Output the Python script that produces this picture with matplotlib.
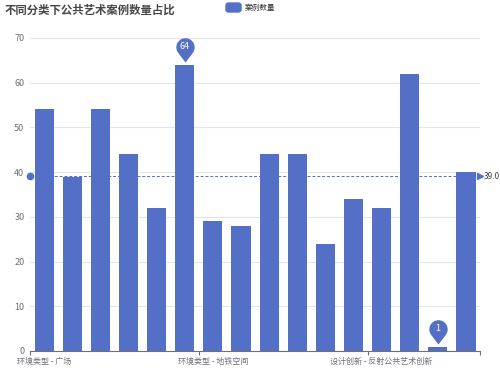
import math
import matplotlib
matplotlib.use("Agg")
import matplotlib.pyplot as plt
from matplotlib.path import Path
from matplotlib.markers import MarkerStyle
from matplotlib.patches import FancyBboxPatch
import matplotlib.transforms as mtransforms

plt.rcParams['font.family'] = ['Noto Sans CJK SC', 'DejaVu Sans']

# data
categories = [
    '环境类型 - 广场', '环境类型 - 公园', '环境类型 - 街道', '环境类型 - 滨水空间',
    '环境类型 - 校园', '环境类型 - 商业空间', '环境类型 - 地铁空间', '环境类型 - 社区',
    '设计创新 - 互动装置', '设计创新 - 数字媒体', '设计创新 - 光影艺术', '设计创新 - 生态材料',
    '设计创新 - 反射公共艺术创新', '设计创新 - 在地文化', '设计创新 - 声音艺术', '设计创新 - 动态雕塑',
]
counts = [54, 39, 54, 44, 32, 64, 29, 28, 44, 44, 24, 34, 32, 62, 1, 40]
shown_label_idx = [0, 6, 12]
y_ticks = [0, 10, 20, 30, 40, 50, 60, 70]
title = '不同分类下公共艺术案例数量占比'
series_name = '案例数量'

blue = '#5470c6'
axis_gray = '#6E7079'

fig = plt.figure(figsize=(5, 3.75), dpi=100)
ax = fig.add_axes([0.06, 0.064, 0.90, 0.835])

x = list(range(len(counts)))
ax.bar(x, counts, width=0.68, color=blue, zorder=2)

ax.set_xlim(-0.5, len(counts) - 0.5)
ax.set_ylim(0, 70)
ax.set_yticks(y_ticks)
ax.tick_params(axis='y', length=0, labelsize=6.5, labelcolor=axis_gray, pad=4)
ax.yaxis.grid(True, color='#E0E6F1', lw=0.8)
ax.set_axisbelow(True)
for s in ['left', 'top', 'right']:
    ax.spines[s].set_visible(False)
ax.spines['bottom'].set_color(axis_gray)
ax.spines['bottom'].set_linewidth(0.8)

ax.set_xticks(shown_label_idx)
ax.set_xticklabels([categories[i] for i in shown_label_idx])
ax.tick_params(axis='x', which='major', length=0, labelsize=5.8, labelcolor=axis_gray, pad=4)
ax.set_xticks([i - 0.5 for i in shown_label_idx] + [len(counts) - 0.5], minor=True)
ax.tick_params(axis='x', which='minor', length=3, color=axis_gray, width=0.8)

# average line
mean = sum(counts) / len(counts)
ax.plot([-0.5, len(counts) - 0.5], [mean, mean], ls=(0, (3, 2)), lw=0.7, color=blue, zorder=3)
ax.plot([-0.5], [mean], marker='o', ms=4.5, color=blue, clip_on=False, zorder=4)
ax.plot([len(counts) - 0.5], [mean], marker='>', ms=4, color=blue, clip_on=False, zorder=4)
ax.annotate(f'{math.floor(mean * 10) / 10:.1f}', (len(counts) - 0.5, mean), xytext=(2.5, 0),
            textcoords='offset points', va='center', ha='left', fontsize=6, color='#444444',
            annotation_clip=False)

# pin markers for max / min
d = 1.65
phi = math.degrees(math.acos(1 / d))
arc = Path.arc(-90 + phi, 270 - phi)
verts = [(vx, vy + d) for vx, vy in arc.vertices] + [(0, 0), (0, 0)]
codes = list(arc.codes) + [Path.LINETO, Path.CLOSEPOLY]
pin = MarkerStyle(Path(verts, codes))
pin_shift = mtransforms.offset_copy(ax.transData, fig=fig, x=0, y=3, units='dots')

for idx in [counts.index(max(counts)), counts.index(min(counts))]:
    ax.plot([idx], [counts[idx]], marker=pin, ms=35, color=blue, mec='none',
            transform=pin_shift, clip_on=False, zorder=5)
    ax.annotate(str(counts[idx]), (idx, counts[idx]), xytext=(0, 12.8), textcoords='offset points',
                ha='center', va='center', fontsize=6.5, color='white', zorder=6)

# title and legend
fig.text(0.01, 0.99, title, fontsize=8.2, fontweight='bold', color='#464646', va='top', ha='left')
fig.patches.append(FancyBboxPatch((226 / 500, 1 - 12 / 375), 15 / 500, 9 / 375,
                                  boxstyle='round,pad=0,rounding_size=0.006',
                                  transform=fig.transFigure, color=blue, figure=fig))
fig.text(245 / 500, 1 - 8 / 375, series_name, fontsize=5.5, color='#333333', va='center', ha='left')

fig.savefig('out.png', dpi=100)
